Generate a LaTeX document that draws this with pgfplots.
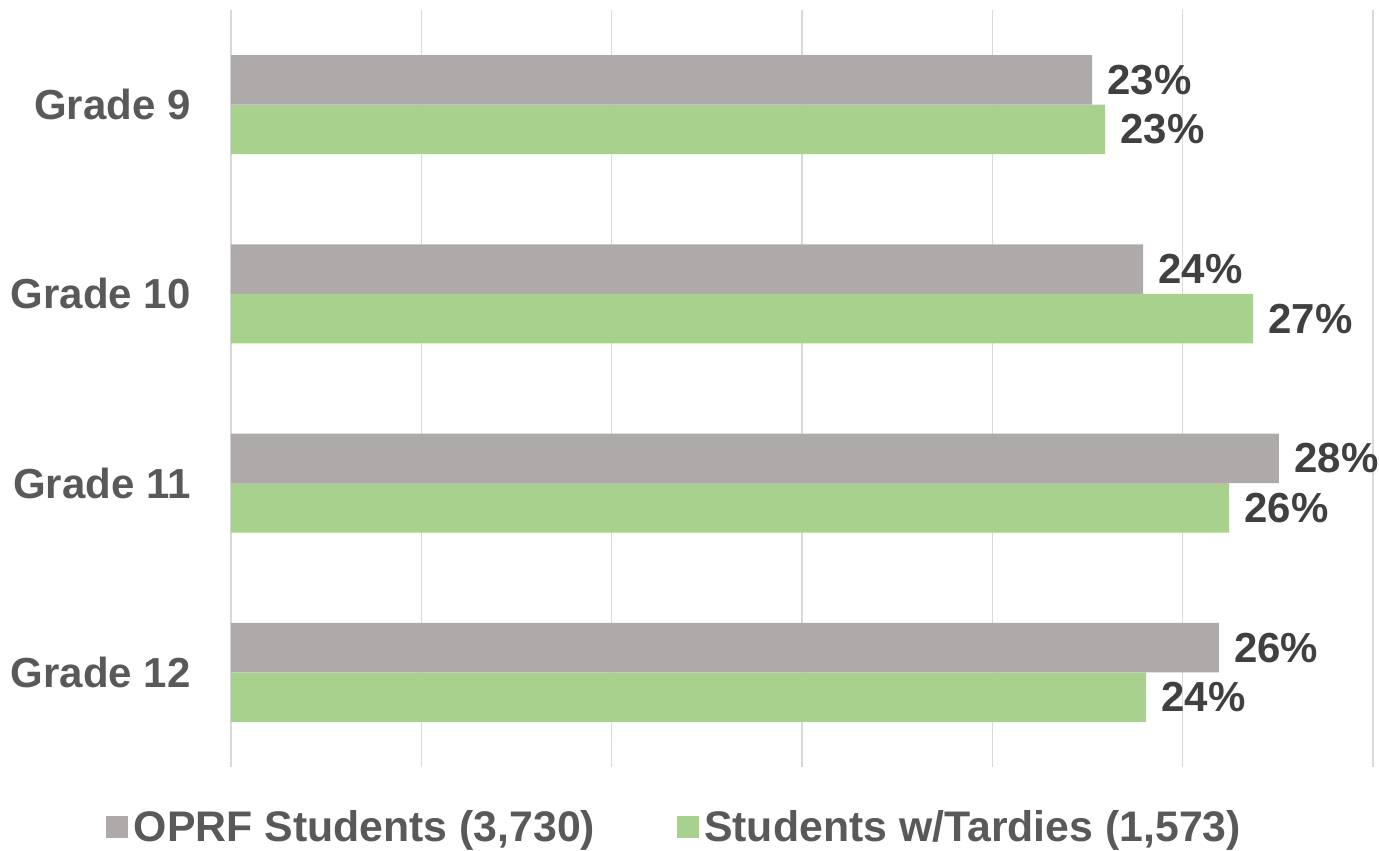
\documentclass[border=0pt]{standalone}
\usepackage{fontspec}
\setmainfont{Liberation Sans}
\usepackage{pgfplots}
\pgfplotsset{compat=1.18}
\definecolor{barGray}{HTML}{AEAAAA}
\definecolor{barGreen}{HTML}{A9D18E}
\definecolor{lblDark}{HTML}{404040}
\definecolor{tickGray}{HTML}{595959}
\definecolor{gridGray}{HTML}{D9D9D9}
\begin{document}
\begin{tikzpicture}
\begin{axis}[
 at={(0,0)}, anchor=south west,
 scale only axis, width=571pt, height=378.5pt,
 xmin=0, xmax=30, ymin=-0.5, ymax=3.5, y dir=reverse,
 xtick={0,5,...,30}, xticklabels={},
 ytick={0,1,2,3}, yticklabels={Grade 9, Grade 10, Grade 11, Grade 12},
 major tick length=0pt,
 xmajorgrids, grid style={gridGray, line width=0.75pt},
 axis line style={draw=none},
 yticklabel style={font=\fontsize{21}{25}\selectfont\bfseries, text=tickGray, anchor=east, inner sep=0pt, xshift=-20pt},
 xbar, bar width=0.262, bar shift=0pt,
 nodes near coords, point meta=explicit symbolic,
 every node near coord/.append style={anchor=west, inner sep=0pt, xshift=7.5pt, font=\fontsize{21}{25}\selectfont\bfseries, text=lblDark},
 clip=false,
 legend columns=2,
 legend style={draw=none, fill=none, at={(0.39,-0.0793)}, anchor=center,
   font=\fontsize{21.4}{25}\selectfont\bfseries, text=tickGray,
   nodes={inner xsep=2.75pt},
   /tikz/every even column/.append style={column sep=38pt}},
 legend image code/.code={\fill[#1] (0pt,-5.5pt) rectangle (11pt,5.5pt);},
]
\addplot[fill=barGray, draw=none] coordinates {
 (22.62,-0.131) [23\%]
 (23.96,0.869) [24\%]
 (27.53,1.869) [28\%]
 (25.95,2.869) [26\%]
};
\addlegendentry{OPRF Students (3,730)}
\addplot[fill=barGreen, draw=none] coordinates {
 (22.96,0.131) [23\%]
 (26.85,1.131) [27\%]
 (26.22,2.131) [26\%]
 (24.04,3.131) [24\%]
};
\addlegendentry{Students w/Tardies (1,573)}
\end{axis}
\pgfresetboundingbox
\path[use as bounding box] (-115.5pt,-41.5pt) rectangle (574pt,383.5pt);
\end{tikzpicture}
\end{document}
